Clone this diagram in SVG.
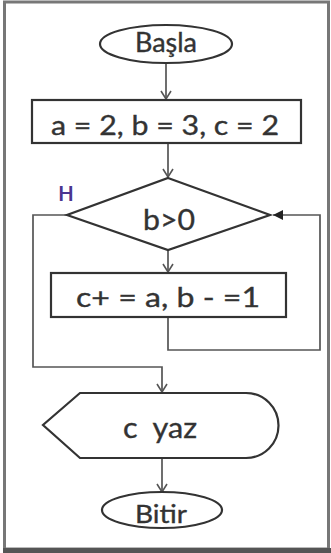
<svg xmlns="http://www.w3.org/2000/svg" width="331" height="553" viewBox="0 0 331 553">
<style>
.shape{fill:#fff;stroke:#333;stroke-width:2.2}
.line{fill:none;stroke:#555;stroke-width:1.7}
.txt{font-family:Lato,"Open Sans","Liberation Sans",sans-serif;fill:#333;stroke:#333;stroke-width:0.35;text-anchor:middle}
</style>
<defs>
<marker id="open" markerWidth="12" markerHeight="12" refX="10" refY="6" orient="auto" markerUnits="userSpaceOnUse">
<path d="M2,1 L10,6 L2,11" fill="none" stroke="#555" stroke-width="1.6"/>
</marker>
<marker id="solid" markerWidth="12" markerHeight="12" refX="10" refY="6" orient="auto" markerUnits="userSpaceOnUse">
<path d="M0,1 L10,6 L0,11 Z" fill="#222"/>
</marker>
</defs>
<rect x="0" y="0" width="331" height="553" fill="#fff"/>
<rect x="4.5" y="2" width="324" height="547" fill="#fff" stroke="#777" stroke-width="3"/>
<rect x="3" y="548" width="328" height="5" fill="#555"/>
<g id="connectors">
<line class="line" x1="166" y1="63" x2="166" y2="99" marker-end="url(#open)"/>
<line class="line" x1="168" y1="143" x2="168" y2="177" marker-end="url(#open)"/>
<line class="line" x1="168" y1="250" x2="168" y2="272" marker-end="url(#open)"/>
<polyline class="line" points="168,317 168,350 320,350 320,215 273,215" marker-end="url(#solid)"/>
<polyline class="line" points="67,215 33,215 33,367 162,367 162,392" marker-end="url(#open)"/>
<line class="line" x1="162" y1="458" x2="162" y2="492" marker-end="url(#open)"/>
</g>
<g id="start">
<ellipse class="shape" cx="166" cy="44" rx="66" ry="19"/>
<text class="txt" x="166" y="52" font-size="26" textLength="62" lengthAdjust="spacingAndGlyphs">Başla</text>
</g>
<g id="init">
<rect class="shape" x="32" y="100" width="269" height="43"/>
<text class="txt" x="165" y="135" font-size="27" textLength="228" lengthAdjust="spacingAndGlyphs">a = 2, b = 3, c = 2</text>
</g>
<g id="cond">
<polygon class="shape" points="168,178 270,215 168,250 67,215"/>
<text class="txt" x="169" y="230" font-size="28" textLength="52" lengthAdjust="spacingAndGlyphs">b&gt;0</text>
<text x="66" y="201" font-family="Lato,'Liberation Sans',sans-serif" font-size="20" font-weight="bold" fill="#4a3590" text-anchor="middle">H</text>
</g>
<g id="update">
<rect class="shape" x="51" y="273" width="235" height="44"/>
<text class="txt" x="168" y="307" font-size="27" textLength="184" lengthAdjust="spacingAndGlyphs" xml:space="preserve">c+ = a, b - =1</text>
</g>
<g id="output">
<path class="shape" d="M80,393 L246,393 A32.5,32.5 0 0 1 246,458 L80,458 L43,425 Z"/>
<text class="txt" x="160" y="438" font-size="28" textLength="74" lengthAdjust="spacingAndGlyphs" xml:space="preserve">c  yaz</text>
</g>
<g id="end">
<ellipse class="shape" cx="162" cy="510" rx="60" ry="18"/>
<text class="txt" x="161" y="523" font-size="25" textLength="52" lengthAdjust="spacingAndGlyphs">Bitir</text>
</g>
</svg>
